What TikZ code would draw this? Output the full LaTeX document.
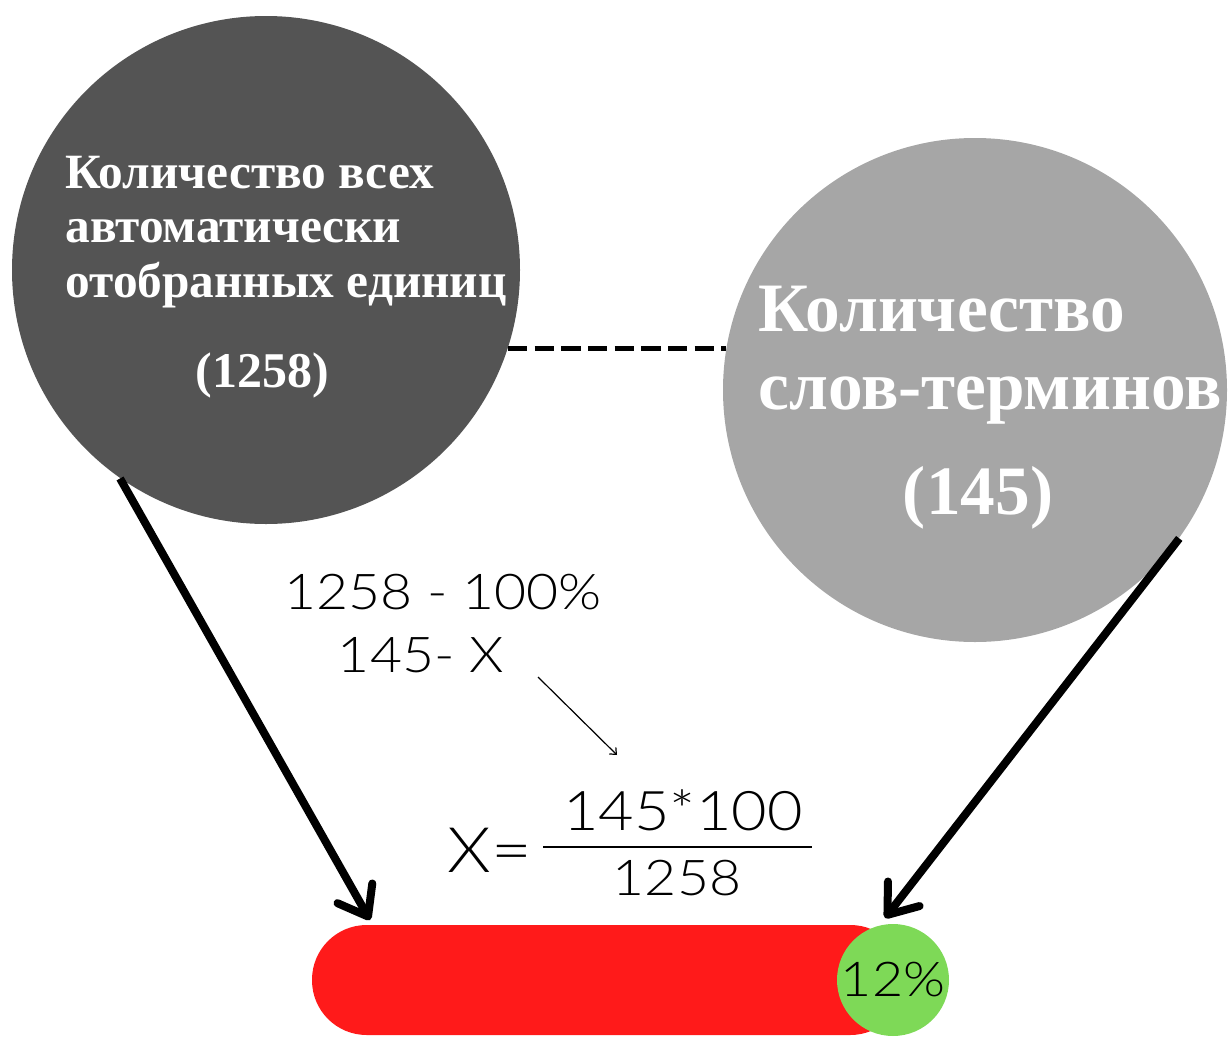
\documentclass[tikz,border=0pt]{standalone}
\usepackage{fontspec}
\setmainfont{Liberation Serif}
\newfontfamily\calcfont{Lato}[UprightFont=* Light,FakeStretch=1.12]
\usetikzlibrary{arrows.meta}

\definecolor{darkdisc}{RGB}{84,84,84}
\definecolor{lightdisc}{RGB}{166,166,166}
\definecolor{barred}{RGB}{255,26,26}
\definecolor{pctgreen}{RGB}{126,217,87}

\tikzset{every picture/.style={line width=0.75pt}}
\tikzset{
  disc/.style={circle,inner sep=0pt,draw=none},
  disctext/.style={text=white,align=left,inner sep=0pt},
  calc/.style={font=\calcfont,inner sep=0pt},
  bigarrow/.style={line width=6pt,-{Straight Barb[length=20pt,width=30pt,round]}},
  smallarrow/.style={line width=0.9pt,-{Straight Barb[length=4pt,width=7pt]}},
  linkline/.style={line width=4pt,dash pattern=on 14.5pt off 5.5pt}
}

\begin{document}
\begin{tikzpicture}[x=0.75pt,y=0.75pt,yscale=-1,xscale=1]
	\useasboundingbox (0,0) rectangle (1229,1039);

	%Shape: Circle [total]
	\node[disc,fill=darkdisc,minimum size=508*0.75pt] (total) at (266,270) {};
	%Shape: Circle [terms]
	\node[disc,fill=lightdisc,minimum size=504*0.75pt] (terms) at (975,390) {};

	%Shape: Rounded bar
	\fill[barred,rounded corners=41pt] (312,925) rectangle (905,1035);
	%Shape: Circle [pct]
	\node[disc,fill=pctgreen,minimum size=112*0.75pt] (pct) at (893,980) {};

	%Dashed link
	\draw[linkline] (total.-18.8) -- (total.-18.8 -| terms.171.3);

	%Big arrows
	\coordinate (tipL) at (370,920);
	\coordinate (tipR) at (885,918);
	\draw[bigarrow] (total.-125) -- (tipL);
	\draw[bigarrow] (terms.-36) -- (tipR);

	% Text Node
	\node[disctext,font=\bfseries\fontsize{37}{41}\selectfont,anchor=west] (totaltext) at (65,232)
	  {Количество всех\\автоматически\\отобранных единиц};
	% Text Node
	\node[disctext,font=\bfseries\fontsize{37.5}{41}\selectfont] (totalnum) at (262,375) {(1258)};
	% Text Node
	\node[disctext,font=\bfseries\fontsize{52}{58.5}\selectfont,anchor=west] (termstext) at (758,355)
	  {Количество\\слов-терминов};
	% Text Node
	\node[disctext,font=\bfseries\fontsize{52}{58.5}\selectfont] (termsnum) at (978,498) {(145)};

	% Text Node
	\node[calc,font=\calcfont\fontsize{37}{44}\selectfont] (prop1) at (443,592) {1258 - 100\%};
	% Text Node
	\node[calc,font=\calcfont\fontsize{37}{44}\selectfont] (prop2) at (421,655) {145- X};

	%Small arrow
	\coordinate (s1) at (538,677);
	\coordinate (s2) at (617,755);
	\draw[smallarrow] (s1) -- (s2);

	% Text Node
	\node[calc,font=\calcfont\fontsize{47}{54}\selectfont] (xeq) at (490,850) {X=};
	% Text Node
	\node[calc,font=\calcfont\fontsize{41}{48}\selectfont] (num) at (683,810) {145*100};
	% Text Node
	\node[calc,font=\calcfont\fontsize{37}{44}\selectfont] (den) at (677,878) {1258};
	%Fraction bar
	\coordinate (fracL) at (543,847);
	\coordinate (fracR) at (812,847);
	\draw[line width=1.5pt] (fracL) -- (fracR);

	% Text Node
	\node[calc,font=\calcfont\fontsize{36}{44}\selectfont] (pcttext) at (pct) {12\%};

\end{tikzpicture}
\end{document}
